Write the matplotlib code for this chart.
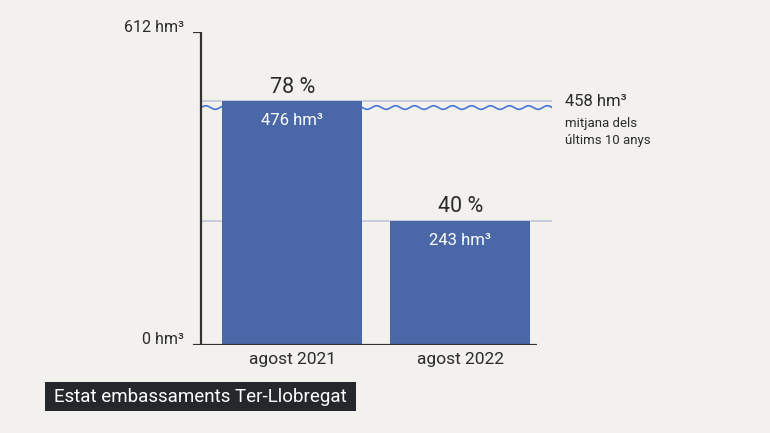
import numpy as np
import matplotlib
matplotlib.use("Agg")
import matplotlib.pyplot as plt
from matplotlib.patches import Rectangle

plt.rcParams['font.family'] = ['Roboto', 'DejaVu Sans']

# data
periods = ['agost 2021', 'agost 2022']
volume = [476, 243]          # hm3
percent = [78, 40]
capacity = 612
average = 458
title = 'Estat embassaments Ter-Llobregat'

BG = '#f2f1ed'
BAR = '#4a68a8'
TXT = '#2b2b2b'
W, H = 770, 433

def fx(x):
    return x / W

def fy(y):
    return 1 - y / H

fig = plt.figure(figsize=(7.7, 4.33), dpi=100, facecolor=BG)

# axes spans pixels 193..552 horizontally, 31.7..345.3 vertically
left, right, top, bottom = 193, 552, 31.7, 345.3
ax = fig.add_axes([fx(left), fy(bottom), fx(right - left), (bottom - top) / H])
ax.set_facecolor(BG)
ppu = 168.0  # pixels per category
c0 = 292.4
ax.set_xlim((left - c0) / ppu, (right - c0) / ppu)
ax.set_ylim(0, capacity)
for s in ax.spines.values():
    s.set_visible(False)
ax.set_xticks([])
ax.set_yticks([])

x = np.arange(len(periods))
yaxis_x = (201 - c0) / ppu
x_end = (right - c0) / ppu
axis_end = (537 - c0) / ppu

# reference lines at each bar top
for v in volume:
    ax.plot([yaxis_x, x_end], [v, v], color='#c3cad6', lw=1.3, zorder=1)

# wavy line for the 10-year average (decoration)
wx = np.linspace(yaxis_x, x_end, 600)
wy = average + 6 + 3.5 * np.sin(2 * np.pi * (wx - yaxis_x) / 0.113)
ax.plot(wx, wy, color='#4677d6', lw=1.2, zorder=1)

ax.bar(x, volume, width=140 / ppu, color=BAR, zorder=3)

# axes lines
ax.plot([yaxis_x, yaxis_x], [0, capacity], color='#333333', lw=1.6, zorder=4,
        solid_capstyle='butt')
ax.plot([(193 - c0) / ppu, yaxis_x], [capacity, capacity], color='#333333', lw=1.6,
        zorder=4, solid_capstyle='butt')
ax.plot([(193 - c0) / ppu, axis_end], [0, 0], color='#333333', lw=1.6, zorder=4,
        solid_capstyle='butt')

for xi, v, p in zip(x, volume, percent):
    ax.annotate(f'{p} %', (xi, v), xytext=(0, 10), textcoords='offset points',
                ha='center', va='center', fontsize=15.5, color=TXT)
    ax.annotate(f'{v} hm³', (xi, v), xytext=(0, -14), textcoords='offset points',
                ha='center', va='center', fontsize=12, color='white', zorder=5)
    ax.annotate(periods[xi], (xi, 0), xytext=(0, -10), textcoords='offset points',
                ha='center', va='center', fontsize=12.5, color=TXT)

fig.text(fx(184), fy(27), f'{capacity} hm³', ha='right', va='center', fontsize=11.5, color=TXT)
fig.text(fx(184), fy(340), '0 hm³', ha='right', va='center', fontsize=11.5, color=TXT)
fig.text(fx(565), fy(102), f'{average} hm³', ha='left', va='center', fontsize=12, color=TXT)
fig.text(fx(565), fy(132), 'mitjana dels\núltims 10 anys', ha='left', va='center',
         fontsize=9.5, color=TXT, linespacing=1.45)

# title box
fig.patches.append(Rectangle((fx(45), fy(411)), fx(311), (411 - 382) / H,
                             transform=fig.transFigure, facecolor='#24282c', edgecolor='none'))
fig.text(fx(54), fy(396.5), title, ha='left', va='center', fontsize=13.5, color='white')

fig.savefig('out.png', dpi=100, facecolor=BG)
